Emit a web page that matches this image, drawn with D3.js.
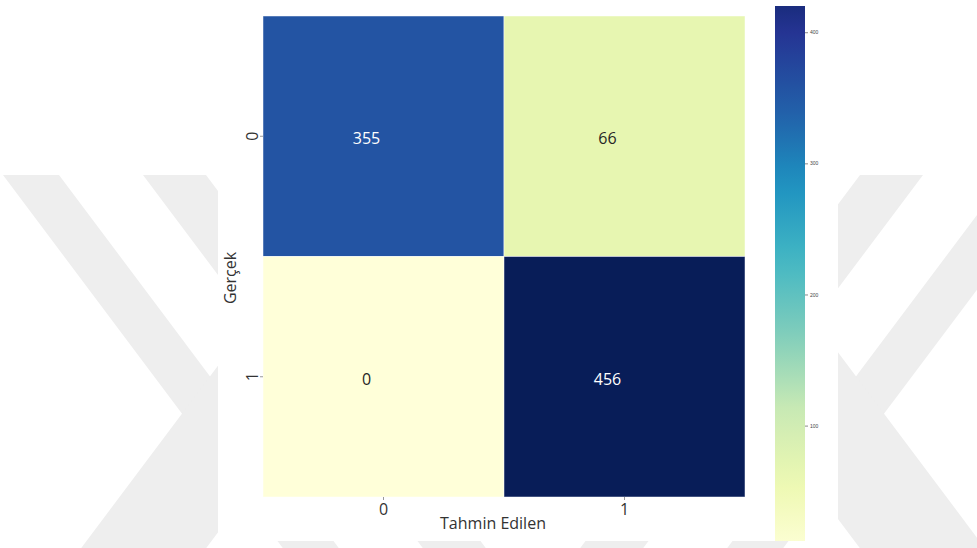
<!DOCTYPE html>
<html>
<head>
<meta charset="utf-8">
<script src="https://cdn.jsdelivr.net/npm/d3@7"></script>
<style>
  html, body { margin: 0; padding: 0; background: #ffffff; }
  svg { display: block; font-family: "Open Sans", "Noto Sans", sans-serif; }
</style>
</head>
<body>
<svg id="chart" width="977" height="548"></svg>
<script>
// Confusion matrix: rows = actual class, columns = predicted class
const actualLabels = ["0", "1"];
const predictedLabels = ["0", "1"];
const counts = [
  [355, 66],
  [0, 456]
];
// Colour bar
const colorbarTicks = [100, 200, 300, 400];
const colorbarExtent = [12, 420];

const svg = d3.select("#chart");
const W = 977, H = 548;
const defs = svg.append("defs");

// ---- background watermark bands ----
defs.append("clipPath").attr("id", "wmclip")
  .append("rect").attr("x", 0).attr("y", 175).attr("width", W).attr("height", H - 175);
const wm = svg.append("g").attr("clip-path", "url(#wmclip)");
const wmCentre = 533;
const leftBands = [
  // [x0 at top, x1 at top, dx per dy]
  [3, 59, 0.75],
  [143, 206, 0.75],
  [361, 486, -0.75]
];
const allBands = leftBands.concat(leftBands.map(([a, b, s]) => [2 * wmCentre - b, 2 * wmCentre - a, -s]));
allBands.forEach(([a, b, s]) => {
  const y0 = 175, y1 = H;
  const d = s * (y1 - y0);
  wm.append("polygon")
    .attr("points", [[a, y0], [b, y0], [b + d, y1], [a + d, y1]].join(" "))
    .attr("fill", "#eeeeee");
});

// white figure area
svg.append("rect").attr("x", 218).attr("y", 0).attr("width", 620).attr("height", 541).attr("fill", "#ffffff");

// ---- heatmap ----
const x = d3.scaleBand().domain(predictedLabels).range([263, 745]);
const y = d3.scaleBand().domain(actualLabels).range([16, 497]);
const vmax = d3.max(counts.flat());
const palette = d3.schemeYlGnBu[9];
const color = d3.scaleLinear()
  .domain(palette.map((_, i) => i * vmax / (palette.length - 1)))
  .range(palette);

const cells = [];
actualLabels.forEach((a, i) => predictedLabels.forEach((p, j) => cells.push({ a, p, v: counts[i][j] })));

svg.append("g").selectAll("rect").data(cells).join("rect")
  .attr("x", d => x(d.p))
  .attr("y", d => y(d.a))
  .attr("width", x.bandwidth())
  .attr("height", y.bandwidth())
  .attr("fill", d => color(d.v))
  .attr("stroke", "#ffffff")
  .attr("stroke-opacity", 0.6)
  .attr("stroke-width", 0.8);

svg.append("g").selectAll("text").data(cells).join("text")
  .attr("x", d => x(d.p) + x.bandwidth() / 2 - 17)
  .attr("y", d => y(d.a) + y.bandwidth() / 2 + 2)
  .attr("text-anchor", "middle")
  .attr("dominant-baseline", "central")
  .attr("font-size", 16)
  .attr("fill", d => d.v > vmax * 0.6 ? "#ffffff" : "#262626")
  .text(d => d.v);

// ---- axes ----
const xAxis = svg.append("g")
  .attr("transform", "translate(0,497)")
  .call(d3.axisBottom(x).tickSize(3).tickPadding(4));
xAxis.select(".domain").remove();
xAxis.selectAll("line").attr("stroke", "#999");
xAxis.selectAll("text").attr("font-size", 16).attr("fill", "#333").attr("font-family", "\"Open Sans\", sans-serif");

const yAxis = svg.append("g")
  .attr("transform", "translate(263,0)")
  .call(d3.axisLeft(y).tickSize(3).tickPadding(0));
yAxis.select(".domain").remove();
yAxis.selectAll("line").attr("stroke", "#999");
yAxis.selectAll("text")
  .attr("x", null).attr("dy", null)
  .attr("text-anchor", "middle")
  .attr("transform", "translate(-5,0) rotate(-90)")
  .attr("font-size", 16).attr("fill", "#333").attr("font-family", "\"Open Sans\", sans-serif");

svg.append("text")
  .attr("x", 493).attr("y", 529)
  .attr("text-anchor", "middle")
  .attr("font-size", 16).attr("fill", "#333")
  .text("Tahmin Edilen");

svg.append("text")
  .attr("transform", "translate(236,278) rotate(-90)")
  .attr("text-anchor", "middle")
  .attr("font-size", 16).attr("fill", "#333")
  .text("Gerçek");

// ---- colour bar ----
const cb = d3.scaleLinear().domain(colorbarExtent).range([541, 6]);
const grad = defs.append("linearGradient")
  .attr("id", "cbgrad").attr("x1", 0).attr("y1", 1).attr("x2", 0).attr("y2", 0);
d3.range(0, 1.0001, 0.05).forEach(t => {
  const v = colorbarExtent[0] + t * (colorbarExtent[1] - colorbarExtent[0]);
  grad.append("stop").attr("offset", t).attr("stop-color", color(v));
});
svg.append("rect")
  .attr("x", 775).attr("y", cb(colorbarExtent[1]))
  .attr("width", 30).attr("height", cb(colorbarExtent[0]) - cb(colorbarExtent[1]))
  .attr("fill", "url(#cbgrad)");

const cbAxis = svg.append("g")
  .attr("transform", "translate(805,0)")
  .call(d3.axisRight(cb).tickValues(colorbarTicks).tickSize(3).tickPadding(2));
cbAxis.select(".domain").remove();
cbAxis.selectAll("line").attr("stroke", "#888");
cbAxis.selectAll("text").attr("font-size", 5).attr("fill", "#444");
</script>
</body>
</html>
